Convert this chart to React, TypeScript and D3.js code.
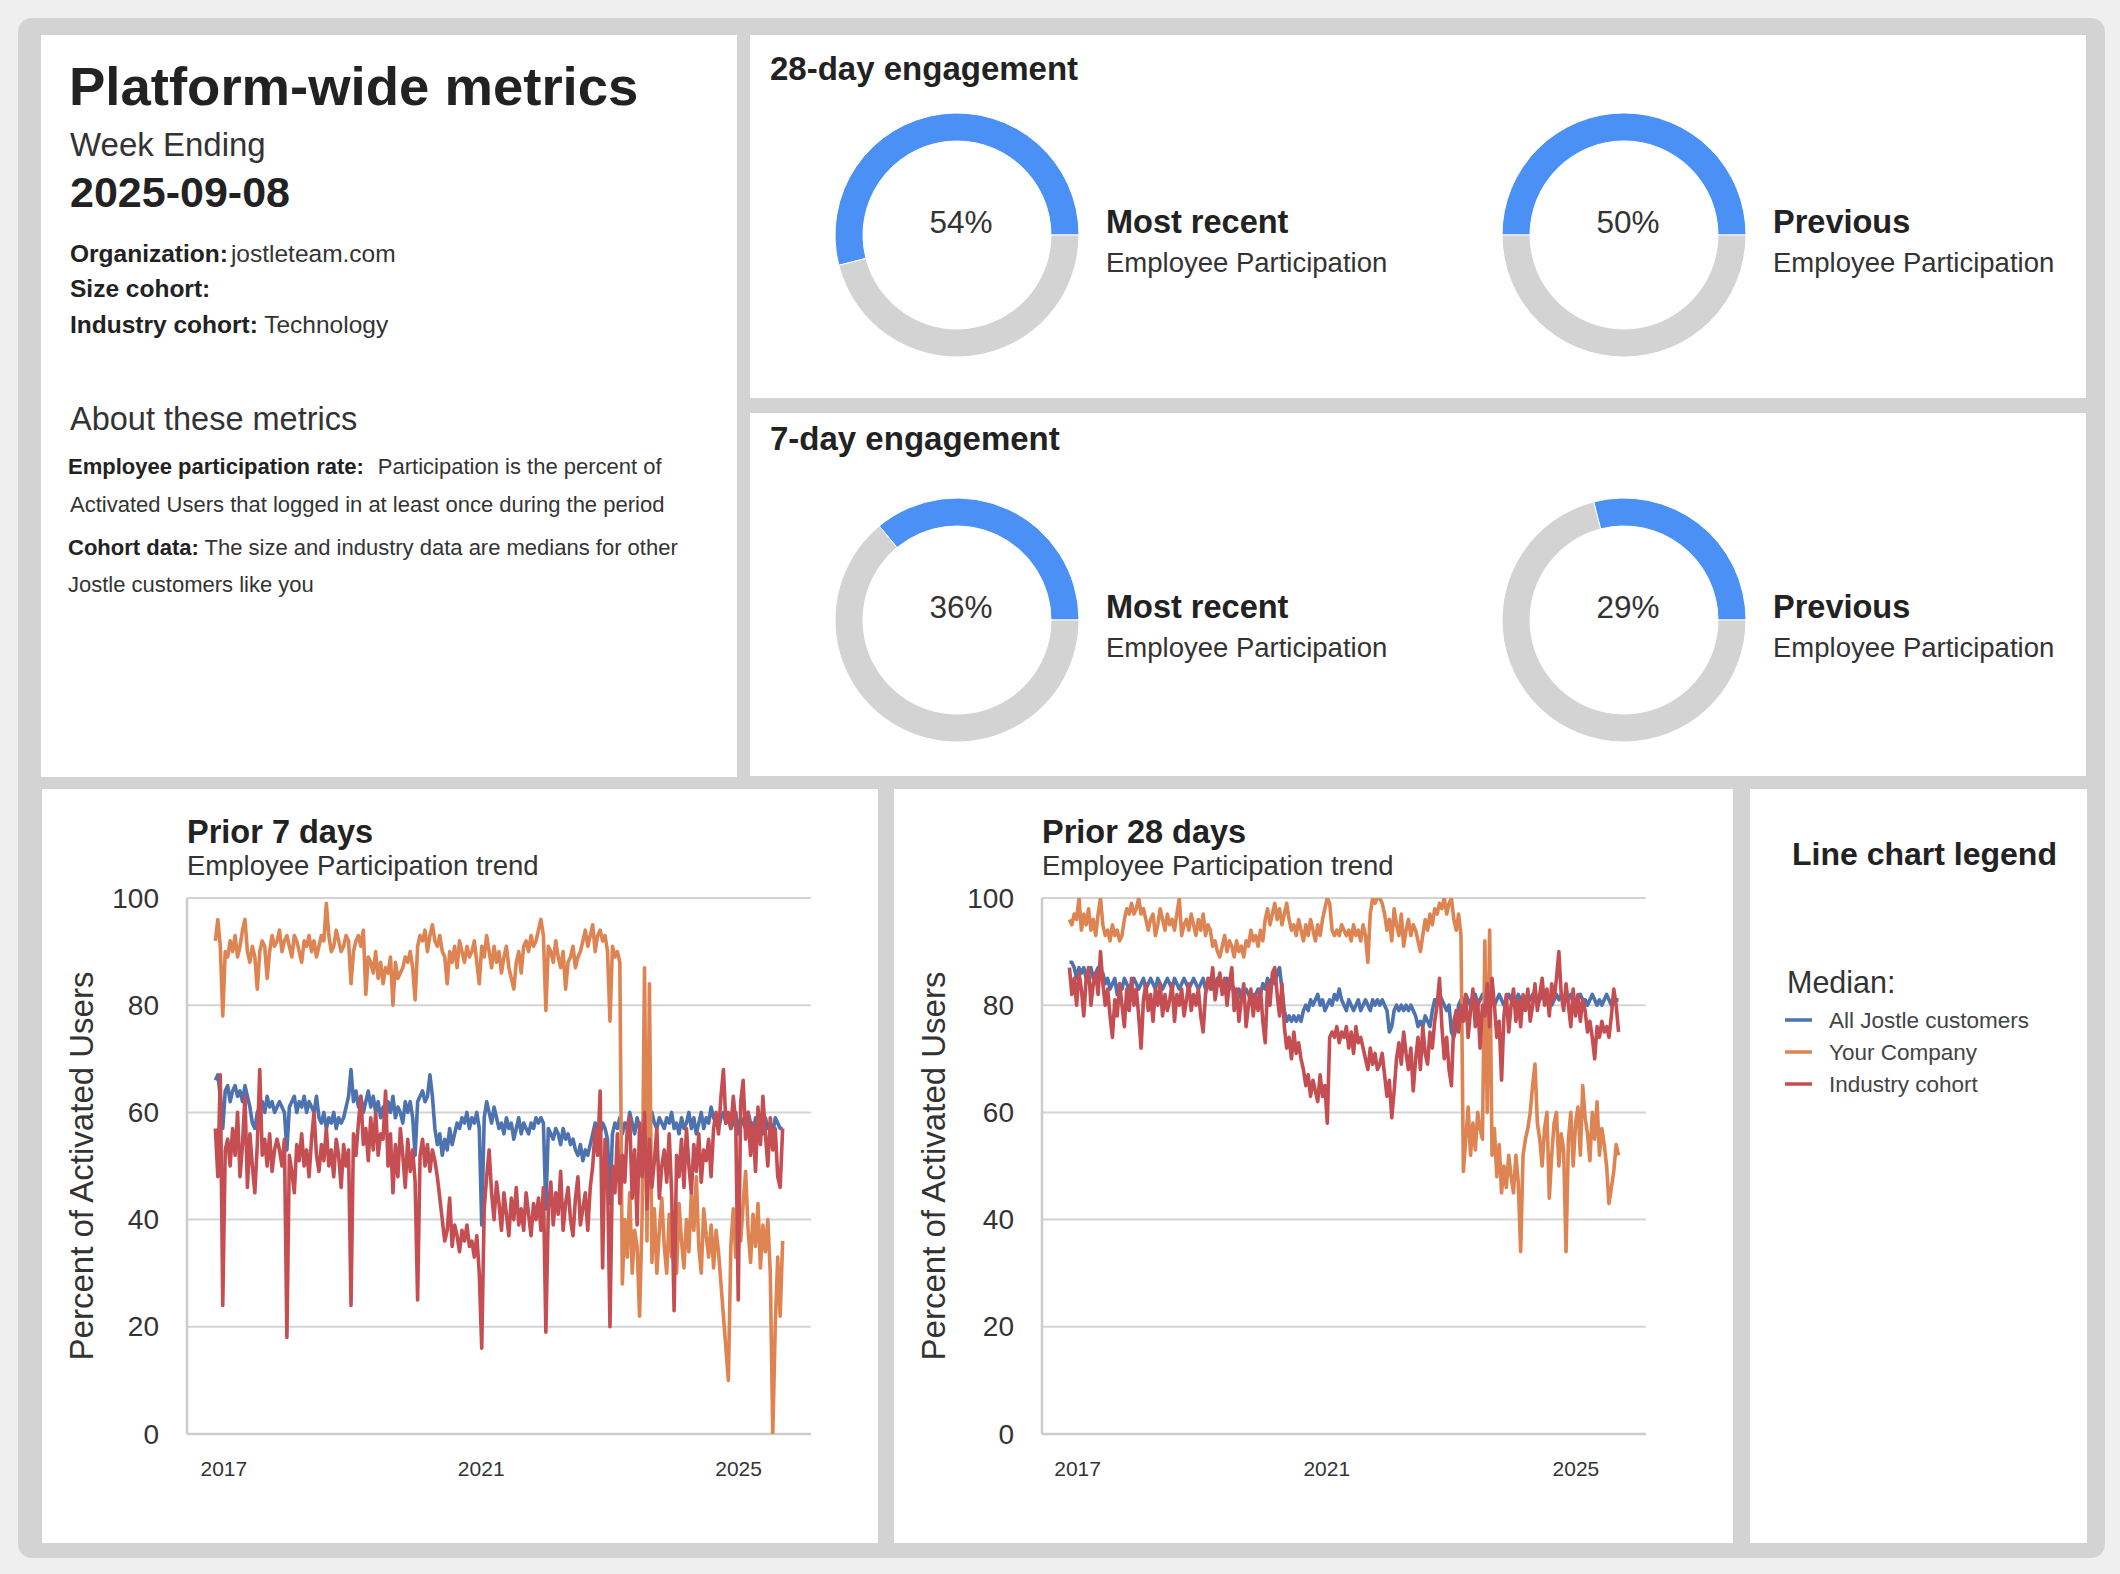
import * as d3 from "d3";
import { useEffect, useRef } from "react";

const WIDTH = 2120;
const HEIGHT = 1574;
const FONT = "'Liberation Sans', Arial, Helvetica, sans-serif";

// points are every 14 days, the last one is the week ending date
const lastDate = new Date(Date.UTC(2025, 8, 8));
const stepDays = 14;

const xTickYears = [2017, 2021, 2025];
const yTicks = [0, 20, 40, 60, 80, 100];

const seriesNames = ["All Jostle customers", "Your Company", "Industry cohort"];
const seriesColors = ["#4c72b0", "#dd8452", "#c44e52"];

// Prior 7 days
const allCustomers7 = [
  66, 67, 63, 57, 64, 65, 62, 64, 65, 63, 64, 62, 65, 63, 61, 58, 57, 60, 61, 62, 60, 63, 61, 62, 60, 61,
  62, 61, 60, 53, 61, 62, 63, 60, 62, 61, 63, 60, 62, 61, 60, 63, 59, 58, 60, 57, 59, 58, 60, 57, 59, 58,
  59, 61, 63, 68, 62, 64, 61, 63, 60, 62, 64, 61, 63, 60, 62, 59, 61, 58, 62, 60, 63, 59, 61, 60, 58, 62,
  60, 62, 59, 52, 62, 63, 64, 62, 63, 67, 63, 57, 54, 56, 52, 55, 53, 57, 54, 56, 58, 57, 59, 58, 60, 57,
  59, 58, 60, 57, 39, 59, 62, 60, 58, 61, 59, 57, 58, 56, 59, 57, 58, 55, 57, 59, 56, 58, 57, 56, 58, 57,
  59, 58, 59, 58, 42, 57, 56, 55, 57, 56, 54, 57, 55, 56, 54, 55, 53, 52, 54, 51, 53, 52, 54, 56, 58, 57,
  56, 58, 57, 55, 43, 56, 58, 57, 59, 56, 58, 57, 60, 58, 56, 59, 57, 58, 56, 59, 57, 60, 58, 57, 59, 58,
  57, 59, 58, 60, 57, 58, 56, 59, 57, 58, 60, 57, 59, 56, 58, 60, 57, 59, 58, 61, 59, 58, 57, 59, 60, 58,
  59, 57, 58, 60, 56, 59, 58, 57, 60, 58, 55, 59, 57, 58, 56, 59, 57, 58, 56, 59, 58, 57, 57,
];
const yourCompany7 = [
  92, 96, 91, 78, 90, 89, 92, 90, 93, 89, 91, 94, 96, 90, 88, 91, 89, 83, 90, 92, 91, 85, 90, 93, 91, 92,
  94, 90, 92, 93, 91, 89, 93, 92, 90, 88, 92, 91, 93, 90, 92, 89, 91, 93, 92, 99, 93, 90, 91, 94, 92, 90,
  91, 93, 92, 84, 90, 92, 93, 91, 94, 82, 89, 88, 86, 90, 85, 88, 84, 87, 86, 89, 80, 88, 85, 86, 87, 89,
  88, 90, 87, 81, 91, 93, 92, 94, 90, 93, 95, 92, 91, 93, 90, 89, 84, 90, 88, 91, 87, 92, 90, 88, 91, 89,
  90, 92, 88, 84, 91, 89, 93, 90, 87, 91, 88, 90, 86, 89, 91, 87, 85, 83, 88, 90, 86, 91, 92, 90, 93, 91,
  92, 94, 96, 93, 79, 91, 90, 88, 92, 89, 87, 90, 83, 88, 89, 91, 87, 89, 90, 92, 94, 91, 93, 95, 90, 93,
  94, 92, 93, 90, 77, 91, 89, 90, 88, 28, 40, 33, 45, 30, 38, 35, 22, 40, 87, 36, 84, 32, 42, 30, 38, 44,
  35, 30, 41, 33, 38, 30, 43, 36, 31, 40, 34, 45, 38, 48, 35, 30, 42, 37, 33, 39, 31, 38, 34, 28, 22, 16,
  10, 35, 42, 33, 40, 36, 43, 49, 38, 32, 41, 35, 43, 31, 39, 34, 40, 30, 0, 20, 33, 22, 36,
];
const industry7 = [
  57, 48, 67, 24, 53, 55, 50, 57, 52, 60, 48, 54, 63, 46, 56, 50, 45, 54, 68, 52, 55, 50, 56, 49, 53, 55,
  53, 50, 55, 18, 52, 49, 45, 54, 51, 56, 50, 53, 48, 55, 60, 52, 49, 54, 51, 57, 50, 53, 48, 55, 52, 46,
  54, 50, 53, 24, 56, 52, 58, 63, 54, 57, 51, 59, 53, 60, 52, 56, 55, 64, 50, 56, 45, 54, 48, 57, 52, 46,
  55, 49, 53, 47, 25, 52, 55, 50, 54, 49, 53, 51, 48, 44, 40, 36, 38, 44, 35, 39, 37, 34, 38, 36, 39, 35,
  36, 33, 37, 30, 16, 42, 48, 53, 45, 40, 47, 43, 38, 45, 41, 37, 44, 40, 46, 39, 42, 38, 45, 41, 37, 43,
  40, 44, 38, 46, 19, 42, 47, 39, 45, 41, 49, 38, 43, 46, 40, 37, 44, 48, 39, 42, 45, 38, 46, 50, 57, 52,
  64, 31, 55, 48, 20, 50, 45, 56, 43, 52, 47, 57, 59, 44, 53, 39, 58, 48, 60, 42, 55, 46, 51, 57, 44, 50,
  53, 47, 56, 45, 23, 52, 48, 55, 46, 57, 50, 45, 54, 49, 56, 47, 53, 51, 55, 48, 57, 60, 56, 63, 68, 58,
  60, 57, 63, 58, 25, 62, 66, 55, 60, 52, 58, 49, 61, 54, 63, 56, 50, 59, 53, 57, 48, 46, 57,
];

// Prior 28 days
const allCustomers28 = [
  88, 88, 87, 85, 87, 86, 87, 85, 86, 87, 85, 86, 87, 85, 86, 84, 85, 83, 84, 85, 82, 84, 83, 85, 84, 83,
  84, 85, 84, 83, 84, 85, 83, 84, 85, 84, 83, 85, 84, 83, 84, 85, 84, 83, 85, 84, 83, 84, 85, 84, 83, 84,
  85, 84, 83, 84, 85, 83, 84, 85, 83, 84, 85, 84, 83, 84, 85, 83, 84, 83, 82, 83, 81, 82, 83, 82, 81, 82,
  82, 83, 82, 84, 83, 85, 84, 85, 84, 86, 87, 83, 79, 77, 78, 77, 78, 77, 78, 77, 79, 80, 79, 81, 80, 81,
  82, 80, 81, 79, 80, 81, 80, 82, 81, 83, 81, 80, 79, 81, 80, 79, 80, 81, 79, 80, 81, 80, 79, 81, 80, 81,
  80, 81, 80, 79, 75, 76, 79, 80, 79, 80, 79, 80, 79, 80, 79, 78, 76, 77, 76, 78, 77, 76, 79, 81, 80, 82,
  81, 80, 79, 80, 75, 74, 76, 80, 81, 80, 82, 81, 80, 81, 82, 80, 81, 82, 81, 80, 82, 81, 80, 81, 82, 81,
  80, 81, 82, 81, 80, 81, 82, 81, 80, 81, 82, 81, 82, 81, 80, 81, 82, 81, 82, 81, 80, 81, 82, 81, 82, 81,
  82, 81, 82, 81, 80, 81, 82, 81, 81, 80, 81, 82, 81, 80, 81, 80, 81, 82, 81, 80, 81, 81, 81,
];
const yourCompany28 = [
  96, 95, 97, 96, 100, 94, 97, 95, 98, 94, 96, 93, 97, 100, 95, 93, 94, 92, 95, 93, 94, 92, 93, 96, 98, 97,
  99, 97, 98, 100, 97, 98, 96, 94, 96, 97, 93, 95, 98, 96, 94, 97, 95, 96, 94, 97, 100, 93, 95, 96, 94, 97,
  95, 93, 96, 94, 97, 93, 95, 94, 91, 92, 90, 89, 91, 93, 90, 92, 91, 89, 92, 90, 91, 89, 92, 91, 94, 92,
  93, 91, 94, 92, 96, 98, 95, 97, 99, 96, 98, 95, 97, 99, 96, 94, 95, 93, 96, 94, 92, 95, 93, 96, 94, 92,
  95, 93, 96, 98, 100, 99, 94, 93, 94, 93, 95, 94, 93, 94, 92, 95, 93, 94, 92, 95, 93, 88, 97, 100, 99, 100,
  100, 99, 97, 94, 96, 92, 98, 95, 93, 97, 91, 94, 96, 93, 95, 94, 92, 90, 93, 96, 94, 97, 95, 98, 97, 99,
  98, 100, 97, 99, 100, 96, 94, 97, 93, 49, 55, 61, 52, 58, 53, 60, 57, 55, 92, 60, 94, 52, 57, 48, 54, 45,
  50, 46, 52, 48, 45, 52, 47, 34, 52, 55, 57, 60, 65, 69, 58, 55, 50, 57, 60, 44, 52, 58, 60, 50, 56, 53,
  34, 55, 60, 50, 58, 61, 52, 65, 59, 56, 51, 60, 55, 62, 52, 57, 54, 50, 43, 46, 49, 54, 52,
];
const industry28 = [
  87, 82, 85, 80, 86, 83, 78, 85, 87, 80, 84, 86, 82, 90, 84, 80, 83, 78, 74, 81, 78, 84, 80, 76, 83, 79,
  85, 80, 83, 78, 72, 81, 84, 79, 82, 77, 83, 80, 84, 78, 82, 79, 81, 84, 77, 82, 80, 83, 78, 81, 84, 79,
  82, 80, 83, 78, 75, 82, 85, 83, 87, 81, 84, 86, 82, 85, 80, 84, 87, 79, 83, 77, 81, 84, 76, 80, 83, 78,
  82, 79, 83, 77, 73, 84, 80, 86, 87, 82, 78, 84, 76, 72, 74, 70, 75, 71, 73, 70, 68, 65, 67, 63, 66, 64,
  62, 67, 63, 65, 58, 74, 75, 74, 76, 73, 75, 74, 76, 72, 75, 71, 76, 73, 74, 72, 70, 68, 72, 69, 71, 68,
  69, 71, 67, 63, 66, 59, 64, 70, 73, 69, 75, 71, 68, 72, 64, 70, 74, 68, 76, 71, 69, 75, 72, 77, 80, 85,
  76, 70, 74, 68, 65, 77, 79, 75, 80, 77, 82, 74, 79, 83, 76, 81, 72, 80, 78, 84, 76, 85, 80, 74, 77, 66,
  78, 82, 75, 80, 83, 77, 81, 76, 82, 79, 83, 77, 80, 84, 79, 82, 85, 80, 83, 78, 84, 81, 85, 90, 82, 79,
  84, 80, 76, 83, 78, 82, 77, 81, 79, 75, 77, 74, 70, 76, 74, 77, 75, 76, 74, 78, 83, 80, 75,
];

// engagement donuts: [most recent, previous]
const donutLabels = ["Most recent", "Previous"];
const engagement28 = [54, 50];
const engagement7 = [36, 29];

const panels = [
  { x: 41, y: 35, w: 696, h: 742 },
  { x: 750, y: 35, w: 1336, h: 363 },
  { x: 750, y: 413, w: 1336, h: 363 },
  { x: 42, y: 789, w: 836, h: 754 },
  { x: 894, y: 789, w: 839, h: 754 },
  { x: 1750, y: 789, w: 337, h: 754 },
];

interface Plot {
  left: number;
  right: number;
  top: number;
  bottom: number;
}

interface TrendChartProps {
  id: string;
  title: string;
  series: number[][];
  plot: Plot;
  labelX: number;
}

const TrendChart = ({ id, title, series, plot, labelX }: TrendChartProps) => {
  const gRef = useRef<SVGGElement>(null);

  useEffect(() => {
    if (!gRef.current) return;
    const g = d3.select(gRef.current);
    g.selectAll("*").remove();

    const n = d3.max(series, s => s.length) || 0;
    const dates = d3.range(n).map(i => d3.utcDay.offset(lastDate, -stepDays * (n - 1 - i)));
    const [d0, d1] = d3.extent(dates) as [Date, Date];
    const pad = (d1.getTime() - d0.getTime()) * 0.05;

    const x = d3.scaleUtc()
      .domain([new Date(d0.getTime() - pad), new Date(d1.getTime() + pad)])
      .range([plot.left, plot.right]);
    const y = d3.scaleLinear().domain([0, 100]).range([plot.bottom, plot.top]);

    // horizontal grid
    g.selectAll(".grid")
      .data(yTicks)
      .join("line")
      .attr("class", "grid")
      .attr("x1", plot.left)
      .attr("x2", plot.right)
      .attr("y1", d => y(d))
      .attr("y2", d => y(d))
      .attr("stroke", "#d4d4d4")
      .attr("stroke-width", 2);

    // left and bottom spines
    g.append("line")
      .attr("x1", plot.left).attr("x2", plot.left)
      .attr("y1", plot.top).attr("y2", plot.bottom)
      .attr("stroke", "#cccccc").attr("stroke-width", 2.5);
    g.append("line")
      .attr("x1", plot.left).attr("x2", plot.right)
      .attr("y1", plot.bottom).attr("y2", plot.bottom)
      .attr("stroke", "#cccccc").attr("stroke-width", 2.5);

    // y tick labels
    g.selectAll(".ytick")
      .data(yTicks)
      .join("text")
      .attr("class", "ytick")
      .attr("x", plot.left - 28)
      .attr("y", d => y(d))
      .attr("text-anchor", "end")
      .attr("dominant-baseline", "central")
      .attr("font-size", 28)
      .attr("fill", "#333")
      .text(d => d);

    // x tick labels
    g.selectAll(".xtick")
      .data(xTickYears)
      .join("text")
      .attr("class", "xtick")
      .attr("x", d => x(new Date(Date.UTC(d, 0, 1))))
      .attr("y", plot.bottom + 42)
      .attr("text-anchor", "middle")
      .attr("font-size", 21)
      .attr("fill", "#333")
      .text(d => d);

    // axis label
    g.append("text")
      .attr("transform", `translate(${labelX},${(plot.top + plot.bottom) / 2}) rotate(-90)`)
      .attr("text-anchor", "middle")
      .attr("dominant-baseline", "central")
      .attr("font-size", 33)
      .attr("fill", "#333")
      .text("Percent of Activated Users");

    // titles
    g.append("text")
      .attr("x", plot.left)
      .attr("y", plot.top - 55)
      .attr("font-size", 32.5)
      .attr("font-weight", "bold")
      .attr("fill", "#222")
      .text(title);
    g.append("text")
      .attr("x", plot.left)
      .attr("y", plot.top - 23)
      .attr("font-size", 27.5)
      .attr("fill", "#333")
      .text("Employee Participation trend");

    // lines
    g.append("clipPath")
      .attr("id", `clip-${id}`)
      .append("rect")
      .attr("x", plot.left)
      .attr("y", plot.top)
      .attr("width", plot.right - plot.left)
      .attr("height", plot.bottom - plot.top);

    const line = d3.line<number>()
      .x((_, i) => x(dates[i]))
      .y(d => y(d));

    g.append("g")
      .attr("clip-path", `url(#clip-${id})`)
      .selectAll("path")
      .data(series)
      .join("path")
      .attr("d", d => line(d))
      .attr("fill", "none")
      .attr("stroke", (_, i) => seriesColors[i])
      .attr("stroke-width", 3.6)
      .attr("stroke-linejoin", "round");
  }, [id, title, series, plot, labelX]);

  return <g ref={gRef} />;
};

interface DonutProps {
  cx: number;
  cy: number;
  value: number;
  label: string;
}

const Donut = ({ cx, cy, value, label }: DonutProps) => {
  // filled part runs counterclockwise from 3 o'clock
  const pie = d3.pie<number>()
    .sort(null)
    .startAngle(Math.PI / 2)
    .endAngle(Math.PI / 2 - 2 * Math.PI);
  const arcs = pie([value, 100 - value]);
  const arc = d3.arc<d3.PieArcDatum<number>>().innerRadius(94).outerRadius(122);
  const colors = ["#4a90f5", "#d3d3d3"];

  return (
    <g>
      <g transform={`translate(${cx},${cy})`}>
        {arcs.map((a, i) => (
          <path key={i} d={arc(a) || ""} fill={colors[i]} stroke="#fff" strokeWidth={1} />
        ))}
        <text x={4} y={-2} textAnchor="middle" fontSize={31.5} fill="#333">
          {value}%
        </text>
      </g>
      <text x={cx + 149} y={cy - 2} fontSize={32.5} fontWeight="bold" fill="#222">
        {label}
      </text>
      <text x={cx + 149} y={cy + 37} fontSize={27.5} fill="#333">
        Employee Participation
      </text>
    </g>
  );
};

const InfoPanel = () => (
  <g fill="#222">
    <text x={69} y={105} fontSize={54.5} fontWeight="bold">Platform-wide metrics</text>
    <text x={70} y={156} fontSize={33} fill="#333">Week Ending</text>
    <text x={70} y={207} fontSize={43} fontWeight="bold">2025-09-08</text>
    <text x={70} y={262} fontSize={24.5}>
      <tspan fontWeight="bold">Organization:</tspan>
      <tspan dx={3} fill="#333">jostleteam.com</tspan>
    </text>
    <text x={70} y={297} fontSize={24.5} fontWeight="bold">Size cohort:</text>
    <text x={70} y={333} fontSize={24.5}>
      <tspan fontWeight="bold">Industry cohort:</tspan>
      <tspan fill="#333"> Technology</tspan>
    </text>
    <text x={70} y={430} fontSize={32.5} fill="#333">About these metrics</text>
    <text x={68} y={474} fontSize={22}>
      <tspan fontWeight="bold">Employee participation rate:</tspan>
      <tspan dx={14} fill="#333">Participation is the percent of</tspan>
    </text>
    <text x={70} y={512} fontSize={22} fill="#333">
      Activated Users that logged in at least once during the period
    </text>
    <text x={68} y={555} fontSize={22}>
      <tspan fontWeight="bold">Cohort data:</tspan>
      <tspan fill="#333"> The size and industry data are medians for other</tspan>
    </text>
    <text x={68} y={592} fontSize={22} fill="#333">Jostle customers like you</text>
  </g>
);

const Legend = () => {
  const rowY = (i: number) => 1020 + i * 32;
  return (
    <g>
      <text x={1792} y={865} fontSize={32} fontWeight="bold" fill="#222">Line chart legend</text>
      <text x={1787} y={993} fontSize={30.5} fill="#333">Median:</text>
      {seriesNames.map((name, i) => (
        <g key={name}>
          <line x1={1785} x2={1812} y1={rowY(i)} y2={rowY(i)} stroke={seriesColors[i]} strokeWidth={3.5} />
          <text x={1829} y={rowY(i) + 8} fontSize={22.5} fill="#444">{name}</text>
        </g>
      ))}
    </g>
  );
};

const plot7 = { left: 187, right: 811, top: 898, bottom: 1434 };
const plot28 = { left: 1042, right: 1646, top: 898, bottom: 1434 };
const series7 = [allCustomers7, yourCompany7, industry7];
const series28 = [allCustomers28, yourCompany28, industry28];

export default function App() {
  return (
    <div style={{ position: "absolute", left: 0, top: 0 }}>
      <svg width={WIDTH} height={HEIGHT} style={{ display: "block", fontFamily: FONT }}>
        <rect width={WIDTH} height={HEIGHT} fill="#efefef" />
        <rect x={18} y={18} width={2087} height={1540} rx={14} fill="#d3d3d3" />
        {panels.map((p, i) => (
          <rect key={i} x={p.x} y={p.y} width={p.w} height={p.h} fill="#fff" />
        ))}

        <InfoPanel />

        <text x={770} y={80} fontSize={33} fontWeight="bold" fill="#222">28-day engagement</text>
        <Donut cx={957} cy={235} value={engagement28[0]} label={donutLabels[0]} />
        <Donut cx={1624} cy={235} value={engagement28[1]} label={donutLabels[1]} />

        <text x={770} y={450} fontSize={33} fontWeight="bold" fill="#222">7-day engagement</text>
        <Donut cx={957} cy={620} value={engagement7[0]} label={donutLabels[0]} />
        <Donut cx={1624} cy={620} value={engagement7[1]} label={donutLabels[1]} />

        <TrendChart id="p7" title="Prior 7 days" series={series7} plot={plot7} labelX={81} />
        <TrendChart id="p28" title="Prior 28 days" series={series28} plot={plot28} labelX={933} />

        <Legend />
      </svg>
    </div>
  );
}
